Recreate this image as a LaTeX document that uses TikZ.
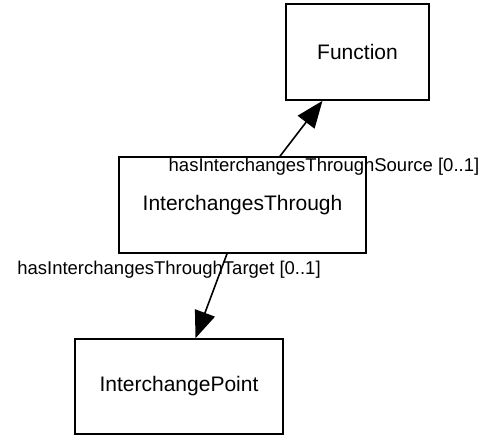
\documentclass[tikz,border=0pt]{standalone}
\usepackage{fontspec}
\setmainfont{Liberation Sans}
\usetikzlibrary{arrows.meta,calc}
\tikzset{
  classbox/.style={draw,line width=1.6pt,minimum width=#1,minimum height=96pt,inner sep=0pt,font=\fontsize{21}{25}\selectfont},
  rolelabel/.style={inner sep=0pt,font=\fontsize{18.5}{22}\selectfont},
  assoc/.style={line width=1.6pt,-{Triangle[length=27pt,width=21pt]}}
}
\begin{document}
\begin{tikzpicture}[x=1pt,y=-1pt]
  \useasboundingbox (0,0) rectangle (487,436);
  \node[classbox=143pt] (function) at (357.5,52) {Function};
  \node[classbox=247pt] (through) at (242.5,205) {InterchangesThrough};
  \node[classbox=208pt,minimum height=95pt] (point) at (179,386.5) {InterchangePoint};
  % source end
  \coordinate (srcA) at ($(through.north)+(37.5,0)$);
  \coordinate (srcB) at ($(function.south)+(-35,0)$);
  \draw[assoc] (srcA) -- (srcB);
  \node[rolelabel] (srclabel) at (324,167) {hasInterchangesThroughSource [0..1]};
  % target end
  \coordinate (tgtA) at ($(through.south)+(-15.5,0)$);
  \coordinate (tgtB) at ($(point.north)+(16.5,0)$);
  \draw[assoc] (tgtA) -- (tgtB);
  \node[rolelabel] (tgtlabel) at (169,270) {hasInterchangesThroughTarget [0..1]};
\end{tikzpicture}
\end{document}
